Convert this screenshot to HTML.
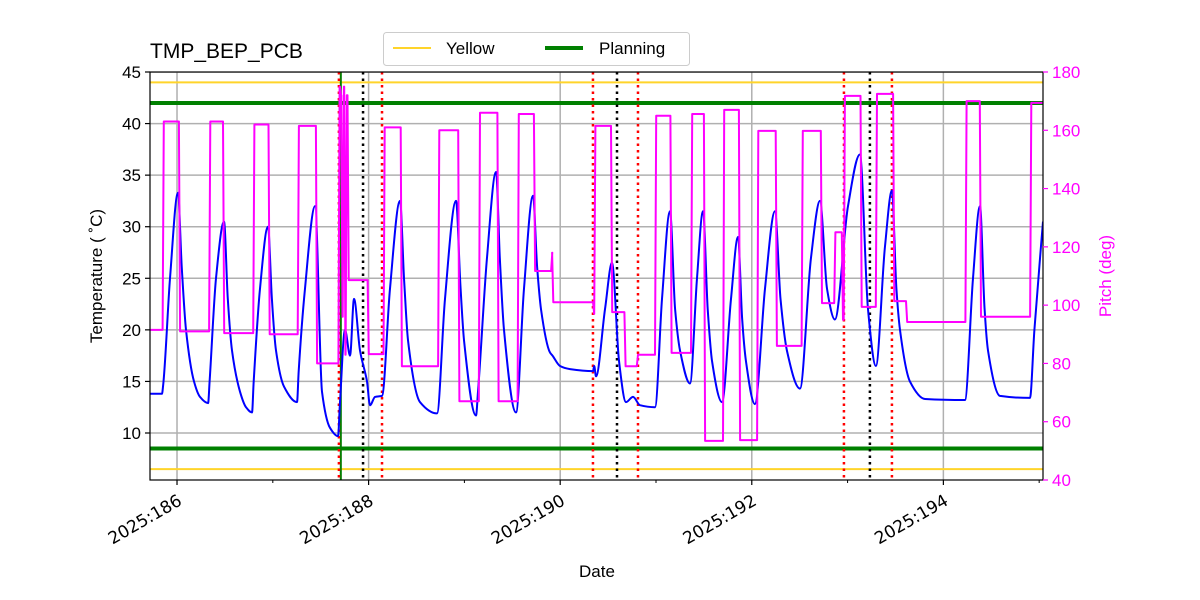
<!DOCTYPE html>
<html><head><meta charset="utf-8"><style>
body{margin:0;background:#fff;}
svg{display:block;font-family:"Liberation Sans","DejaVu Sans",sans-serif;}
</style></head><body>
<svg id="chart" width="1200" height="600" viewBox="0 0 1200 600"></svg>
<script>
// ---- data ----
const tempTicks=[10,15,20,25,30,35,40,45];
const pitchTicks=[40,60,80,100,120,140,160,180];
const dayTicks=[186,188,190,192,194];
const dayTickLabels=["2025:186","2025:188","2025:190","2025:192","2025:194"];
const minorDayTicks=[187,189,191,193,195];
const yellowLimits=[44,6.5];
const planningLimits=[42,8.5];
const redEvents=[187.69,188.14,190.342,190.812,192.962,193.463];
const blackEvents=[187.942,190.593,193.233];
const greenEvents=[187.71];
const tempDays=[185.718,185.843,185.854,185.927,186.010,186.050,186.094,186.177,186.240,186.324,186.340,186.407,186.491,186.530,186.574,186.658,186.720,186.783,186.800,186.866,186.950,186.990,187.033,187.117,187.253,187.270,187.336,187.441,187.514,187.597,187.681,187.701,187.754,187.806,187.848,187.910,187.983,188.015,188.067,188.140,188.223,188.328,188.370,188.411,188.537,188.714,188.797,188.912,188.960,188.996,189.121,189.142,189.236,189.330,189.370,189.413,189.539,189.622,189.716,189.760,189.800,189.894,189.920,189.998,190.102,190.342,190.355,190.374,190.468,190.541,190.614,190.687,190.760,190.833,190.990,191.063,191.146,191.200,191.251,191.355,191.428,191.491,191.540,191.585,191.689,191.783,191.856,191.900,191.939,192.033,192.138,192.242,192.300,192.367,192.503,192.618,192.712,192.785,192.868,193.004,193.129,193.213,193.296,193.390,193.463,193.510,193.547,193.651,193.808,194.225,194.309,194.382,194.430,194.466,194.591,194.904,194.950,195.040];
const tempValues=[13.8,13.8,14.5,25,33.3,26,20,15,13.5,12.9,15,25,30.5,23,18,14,12.5,12.0,15,24,30,23,18,14.5,13.0,16,24,32,14,10.5,9.7,13,20,17.5,23,18,15,12.7,13.5,13.6,24,32.5,25,19,13,11.9,23,32.5,24,19,11.7,14,27,35.3,27,20,12,24,33,26,22,17.8,17.5,16.5,16.2,16,16.5,15.5,22,26.5,17,13,13.5,12.7,12.5,23,31.5,22,18,14.8,25,31.5,22,17,13,23,29,21,17,12.8,24,31.5,23,18,14.3,27,32.5,24,21,32,37,22,16.5,28,33.5,24,20,15,13.3,13.2,25,32,22,18,13.6,13.4,20,30.5];
const pitchDays=[185.718,185.850,186.020,186.335,186.480,186.795,186.955,187.260,187.450,187.685,187.700,187.715,187.730,187.745,187.760,187.780,187.990,188.155,188.335,188.725,188.935,189.150,189.345,189.555,189.725,189.905,189.915,190.342,190.355,190.530,190.670,190.800,190.990,191.150,191.365,191.500,191.700,191.865,192.055,192.250,192.520,192.720,192.860,192.940,192.960,193.135,193.295,193.475,193.610,194.230,194.380,194.905];
const pitchValues=[91.5,163,91,163,90.4,162,90,161.5,80,175,172,96,175,83,172,108.6,83.2,161,79,160,67,166,67,165.6,111.7,118,101,97,161.5,97.6,79,83,165,83.6,165.6,53.4,167,53.7,159.8,86,159.8,100.7,125,95,171.8,99.4,172.5,101.4,94.2,170,96,169.4];
const dayEnd=195.040;

// ---- axes ----
const L=150,R=1043,T=72,B=480;
const x=d=>L+(d-185.718)/(195.040-185.718)*(R-L);
const yT=t=>72+(45-t)*(433-72)/35;
const yP=p=>T+(180-p)/140*(B-T);
const NS="http://www.w3.org/2000/svg";
const svg=document.getElementById('chart');
function mk(tag,attrs,parent){const e=document.createElementNS(NS,tag);for(const k in attrs)e.setAttribute(k,attrs[k]);(parent||svg).appendChild(e);return e;}

const defs=mk('defs',{});const cp=mk('clipPath',{id:'clip'},defs);mk('rect',{x:L,y:T,width:R-L,height:B-T},cp);
const plot=mk('g',{'clip-path':'url(#clip)'});



dayTicks.forEach(d=>{const g=mk('line',{x1:x(d),x2:x(d),y1:T,y2:B,stroke:'#b0b0b0','stroke-width':1.5},plot);

});
tempTicks.forEach(t=>{const g=mk('line',{x1:L,x2:R,y1:yT(t),y2:yT(t),stroke:'#b0b0b0','stroke-width':1.5},plot);

});

yellowLimits.forEach(t=>{const e=mk('line',{x1:L,x2:R,y1:yT(t),y2:yT(t),stroke:'#ffd42a','stroke-width':2},plot);

});
planningLimits.forEach(t=>{const e=mk('line',{x1:L,x2:R,y1:yT(t),y2:yT(t),stroke:'#008000','stroke-width':4},plot);

});

greenEvents.forEach(d=>{const e=mk('line',{x1:x(d),x2:x(d),y1:T,y2:B,stroke:'#008000','stroke-width':2},plot);

});
redEvents.forEach(d=>{const e=mk('line',{x1:x(d),x2:x(d),y1:T,y2:B,stroke:'#ff0000','stroke-width':2.5,'stroke-dasharray':'2.5,4'},plot);

});
blackEvents.forEach(d=>{const e=mk('line',{x1:x(d),x2:x(d),y1:T,y2:B,stroke:'#000','stroke-width':2.5,'stroke-dasharray':'2.5,4'},plot);

});

function monotonePath(xs,ys){
 const n=xs.length,dx=[],m=[],t=[];
 for(let i=0;i<n-1;i++){dx[i]=xs[i+1]-xs[i];m[i]=(ys[i+1]-ys[i])/(dx[i]||1e-6);}
 t[0]=m[0];t[n-1]=m[n-2];
 for(let i=1;i<n-1;i++){if(m[i-1]*m[i]<=0)t[i]=0;else{const w1=2*dx[i]+dx[i-1],w2=dx[i]+2*dx[i-1];t[i]=(w1+w2)/(w1/m[i-1]+w2/m[i]);}}
 let p='M'+xs[0].toFixed(1)+','+ys[0].toFixed(1);
 for(let i=0;i<n-1;i++){const h=dx[i]/3;
  p+='C'+(xs[i]+h).toFixed(1)+','+(ys[i]+t[i]*h).toFixed(1)+' '+(xs[i+1]-h).toFixed(1)+','+(ys[i+1]-t[i+1]*h).toFixed(1)+' '+xs[i+1].toFixed(1)+','+ys[i+1].toFixed(1);}
 return p;}
const pd=monotonePath(tempDays.map(x),tempValues.map(yT));
const tl=mk('path',{d:pd,fill:'none',stroke:'#0000ff','stroke-width':2,'stroke-linejoin':'round'},plot);



let pp='';
pitchDays.forEach((d,i)=>{const X=x(d),Y=yP(pitchValues[i]);
 if(i===0)pp+='M'+X.toFixed(1)+','+Y.toFixed(1);else pp+='L'+X.toFixed(1)+','+yP(pitchValues[i-1]).toFixed(1)+'L'+(X+1.2).toFixed(1)+','+Y.toFixed(1);});
pp+='L'+x(dayEnd).toFixed(1)+','+yP(pitchValues[pitchValues.length-1]).toFixed(1);
const pl=mk('path',{d:pp,fill:'none',stroke:'#ff00ff','stroke-width':2,'stroke-linejoin':'round'},plot);



const fr=mk('rect',{x:L,y:T,width:R-L,height:B-T,fill:'none',stroke:'#000','stroke-width':1.2});



tempTicks.forEach(t=>{mk('line',{x1:L-5,x2:L,y1:yT(t),y2:yT(t),stroke:'#000','stroke-width':1.2});
const tx=mk('text',{x:L-9,y:yT(t)+6,'text-anchor':'end','font-size':17,fill:'#000'});tx.textContent=t;

});
pitchTicks.forEach(p=>{mk('line',{x1:R,x2:R+5,y1:yP(p),y2:yP(p),stroke:'#ff00ff','stroke-width':1.2});
const tx=mk('text',{x:R+9,y:yP(p)+6,'font-size':17,fill:'#ff00ff'});tx.textContent=p;

});
dayTicks.forEach((d,i)=>{mk('line',{x1:x(d),x2:x(d),y1:B,y2:B+5,stroke:'#000','stroke-width':1.2});
const ax=x(d)+6,ay=B+24;
const tx=mk('text',{x:ax,y:ay,'text-anchor':'end','font-size':17,'font-family':'DejaVu Sans, sans-serif',fill:'#000',transform:`rotate(-30 ${ax} ${ay})`});tx.textContent=dayTickLabels[i];

});
minorDayTicks.forEach(d=>{mk('line',{x1:x(d),x2:x(d),y1:B,y2:B+3,stroke:'#000','stroke-width':1});});

let e;
e=mk('text',{x:150,y:58,'font-size':21,fill:'#000'});e.textContent='TMP_BEP_PCB';


e=mk('text',{x:597,y:577,'text-anchor':'middle','font-size':17,fill:'#000'});e.textContent='Date';


e=mk('text',{x:102,y:276,'text-anchor':'middle','font-size':17,fill:'#000',transform:'rotate(-90 102 276)'});
e.textContent='Temperature ( \u02DAC)';


e=mk('text',{x:1111,y:276,'text-anchor':'middle','font-size':17,fill:'#ff00ff',transform:'rotate(-90 1111 276)'});e.textContent='Pitch (deg)';



const lg=mk('g',{});


mk('rect',{x:383.5,y:32.5,width:306,height:33,rx:3,fill:'#fff',stroke:'#ccc'},lg);
mk('line',{x1:393,x2:431,y1:48,y2:48,stroke:'#ffd42a','stroke-width':2},lg);
e=mk('text',{x:446,y:54,'font-size':17},lg);e.textContent='Yellow';


mk('line',{x1:545,x2:583,y1:48,y2:48,stroke:'#008000','stroke-width':4},lg);
e=mk('text',{x:599,y:54,'font-size':17},lg);e.textContent='Planning';


</script>
</body></html>
